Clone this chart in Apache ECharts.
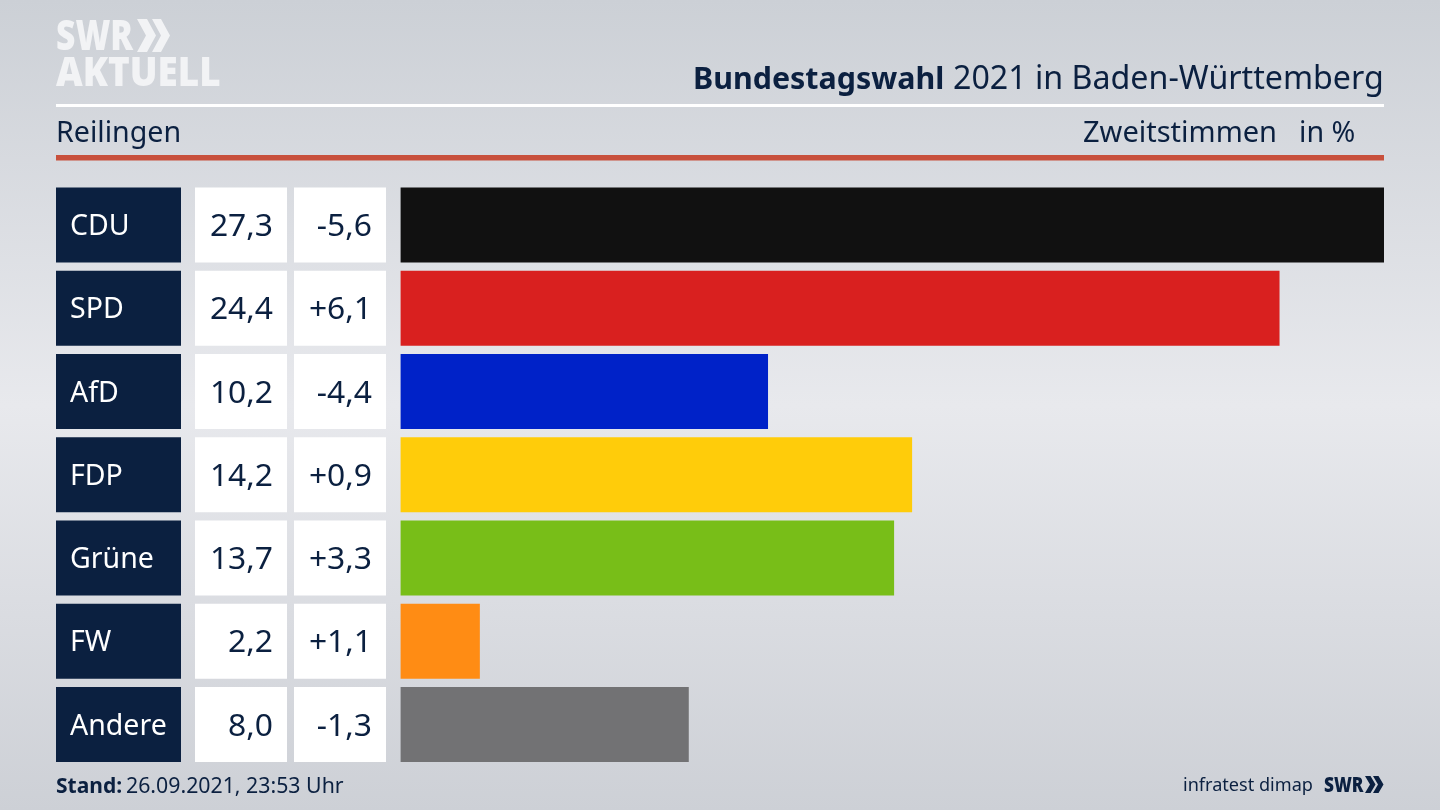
<!DOCTYPE html>
<html><head><meta charset="utf-8">
<style>html,body{margin:0;padding:0;background:#d8dade}#c{width:1440px;height:810px}</style>
<script src="https://cdn.jsdelivr.net/npm/echarts@6/dist/echarts.min.js"></script>
</head><body><div id="c"></div>
<script>
const parties = ['CDU','SPD','AfD','FDP','Grüne','FW','Andere'];
const shares = [27.3,24.4,10.2,14.2,13.7,2.2,8.0];
const shareLabels = ['27,3','24,4','10,2','14,2','13,7','2,2','8,0'];
const changeLabels = ['-5,6','+6,1','-4,4','+0,9','+3,3','+1,1','-1,3'];
const barColors = ['#111111','#d9201f','#0022c8','#ffcc0a','#78be18','#ff8c14','#727274'];

const NAVY = '#0b2040';
const FONT = '"Noto Sans", sans-serif';
const HEAVY = '"Open Sans", sans-serif';
const LOGO = '#f2f3f5';
const columns = [
  {left:56, width:125, color:NAVY, text:'#ffffff', labels:parties, pos:'insideLeft', size:28.5},
  {left:195, width:92, color:'#ffffff', text:NAVY, labels:shareLabels, pos:'insideRight', size:31.8},
  {left:294, width:92, color:'#ffffff', text:NAVY, labels:changeLabels, pos:'insideRight', size:31.8}
];
const TOP = 183.4, BAND = 83.25, H = BAND*parties.length;
const grids = [], xAxes = [], yAxes = [], series = [];
function addGrid(left, width, max){
  const i = grids.length;
  grids.push({left, width, top:TOP, height:H, containLabel:false});
  xAxes.push({type:'value', gridIndex:i, min:0, max, show:false});
  yAxes.push({type:'category', gridIndex:i, data:parties, inverse:true, show:false});
  return i;
}
columns.forEach(c=>{
  const i = addGrid(c.left, c.width, 1);
  series.push({type:'bar', xAxisIndex:i, yAxisIndex:i, barWidth:75, silent:true, animation:false,
    data:parties.map(()=>1), itemStyle:{color:c.color},
    label:{show:true, position:c.pos, distance:14, offset:[0,2], color:c.text, fontFamily:FONT, fontSize:c.size,
      formatter:p=>c.labels[p.dataIndex]}});
});
const b = addGrid(400.6, 983.4, 27.3);
series.push({type:'bar', xAxisIndex:b, yAxisIndex:b, barWidth:75, silent:true, animation:false,
  data:shares.map((v,i)=>({value:v, itemStyle:{color:barColors[i]}}))});

function txt(x,y,text,size,opt={},extra={}){
  return Object.assign({type:'text', x, y, silent:true, style:Object.assign({text, fontFamily:FONT, fontSize:size, fill:NAVY, textVerticalAlign:'middle'}, opt)}, extra);
}
const chevron = (x,y,w,h,t,fill)=>({type:'polygon', silent:true, shape:{points:[[x,y],[x+t,y],[x+t+w,y+h/2],[x+t,y+h],[x,y+h],[x+w,y+h/2]]}, style:{fill}});
const graphic = [
  {type:'rect', silent:true, shape:{x:56,y:104,width:1328,height:3}, style:{fill:'#ffffff'}},
  {type:'rect', silent:true, shape:{x:56,y:155,width:1328,height:5.5}, style:{fill:'#c8503c'}},
  txt(56,38,'SWR',42,{fontWeight:800,fill:LOGO,fontFamily:HEAVY},{scaleX:0.8}),
  chevron(137,19,9,33,10,LOGO), chevron(152,19,9,33,9,LOGO),
  txt(56,75,'AKTUELL',40,{fontWeight:800,fill:LOGO,fontFamily:HEAVY},{scaleX:0.92}),
  txt(693,80,'Bundestagswahl',30.4,{fontWeight:'bold'}),
  txt(953,80,'2021 in Baden-Württemberg',32.2),
  txt(56,134,'Reilingen',28.6),
  txt(1083,134,'Zweitstimmen',29),
  txt(1299,134,'in %',28.6),
  txt(56,787,'Stand:',21,{fontWeight:'bold'}),
  txt(126,787,'26.09.2021, 23:53 Uhr',21.3),
  txt(1183,786,'infratest dimap',18.1),
  txt(1324,786,'SWR',21,{fontWeight:800,fontFamily:HEAVY},{scaleX:0.82}),
  chevron(1365,776,5,17,5.5,NAVY), chevron(1373,776,5,17,5.5,NAVY)
];

const chart = echarts.init(document.getElementById('c'), null, {renderer:'canvas'});
chart.setOption({
  animation:false,
  backgroundColor:{type:'linear',x:0,y:0,x2:0,y2:1,colorStops:[
    {offset:0,color:'#ccd0d6'},{offset:0.5,color:'#e8e9ed'},{offset:1,color:'#cdd0d6'}]},
  grid:grids, xAxis:xAxes, yAxis:yAxes, series, graphic
});
</script></body></html>
